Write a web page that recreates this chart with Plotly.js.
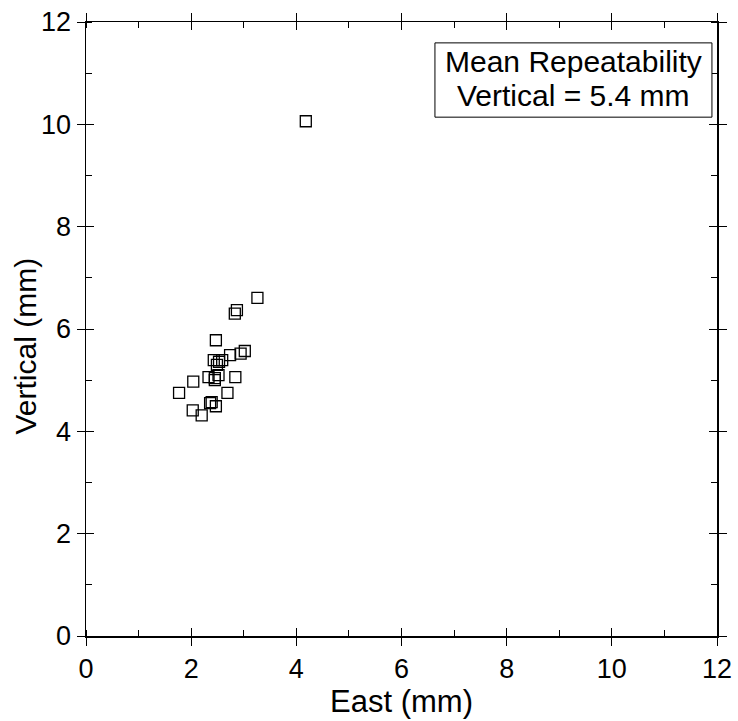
<!DOCTYPE html>
<html>
<head>
<meta charset="utf-8">
<script src="https://cdn.plot.ly/plotly-3.0.1.min.js"></script>
<style>html,body{margin:0;padding:0;background:#fff}#chart{width:738px;height:721px}</style>
</head>
<body>
<div id="chart"></div>
<script>
const eastMM = [4.18, 3.26, 2.87, 2.83, 2.47, 3.02, 2.94, 2.74, 2.43, 2.59, 2.53, 2.49, 2.52, 2.33, 2.45, 2.45, 2.84, 2.04, 1.77, 2.69, 2.39, 2.36, 2.47, 2.03, 2.20];
const verticalMM = [10.06, 6.61, 6.37, 6.30, 5.78, 5.57, 5.52, 5.49, 5.39, 5.39, 5.36, 5.30, 5.10, 5.06, 5.04, 5.00, 5.06, 4.97, 4.75, 4.75, 4.57, 4.55, 4.49, 4.41, 4.31];
const tickVals = [0, 2, 4, 6, 8, 10, 12];
const tickText = ['0', '2', '4', '6', '8', '10', '12'];
const noteLines = ['Mean Repeatability', 'Vertical = 5.4 mm'];
const xTitle = 'East (mm)';
const yTitle = 'Vertical (mm)';

const font = 'Liberation Sans, Arial, sans-serif';
const baseAxis = {
  range: [0, 12], tickvals: tickVals, ticktext: tickText,
  ticks: 'outside', ticklen: 8, tickwidth: 1, tickcolor: '#000',
  showline: true, linecolor: '#000', linewidth: 1.5, mirror: 'allticks',
  showgrid: false, zeroline: false,
  tickfont: {family: font, size: 27, color: '#000'},
  minor: {dtick: 1, ticks: 'inside', ticklen: 6, tickcolor: '#000', tickwidth: 1, showgrid: false}
};
const innerAxis = {
  range: [0, 12], tickvals: tickVals, ticks: 'inside', ticklen: 8, tickwidth: 1, tickcolor: '#000',
  showticklabels: false, showline: false, showgrid: false, zeroline: false, mirror: 'allticks'
};

const data = [{
  x: eastMM, y: verticalMM, type: 'scatter', mode: 'markers',
  marker: {symbol: 'square-open', size: 11, color: '#000', line: {width: 1.3, color: '#000'}},
  hoverinfo: 'x+y'
}, {x: [null], y: [null], xaxis: 'x2', yaxis: 'y2', type: 'scatter', mode: 'markers', showlegend: false, hoverinfo: 'skip'}];

const annotations = noteLines.map((t, i) => ({
  xref: 'paper', yref: 'paper', x: 0.7725, y: [0.9357, 0.8803][i], xanchor: 'center', yanchor: 'middle',
  text: t, showarrow: false, align: 'center',
  font: {family: font, size: 30, color: '#000'}
}));
annotations.push({
  xref: 'paper', yref: 'paper', x: -0.0951, y: 0.4731, xanchor: 'center', yanchor: 'middle',
  text: yTitle, textangle: -90, showarrow: false,
  font: {family: font, size: 30, color: '#000'}
});

const layout = {
  width: 738, height: 721,
  margin: {l: 86, r: 21, t: 22, b: 85},
  paper_bgcolor: '#fff', plot_bgcolor: '#fff',
  showlegend: false,
  xaxis: Object.assign({}, baseAxis, {title: {text: xTitle, font: {family: font, size: 31, color: '#000'}, standoff: 6}}),
  yaxis: Object.assign({}, baseAxis),
  xaxis2: Object.assign({}, innerAxis, {overlaying: 'x', anchor: 'y'}),
  yaxis2: Object.assign({}, innerAxis, {overlaying: 'y', anchor: 'x'}),
  shapes: [{
    type: 'rect', xref: 'paper', yref: 'paper',
    x0: 0.553, x1: 0.992, y0: 0.845, y1: 0.966,
    line: {color: '#000', width: 1}, fillcolor: '#fff', layer: 'above'
  }],
  annotations: annotations
};

Plotly.newPlot('chart', data, layout, {staticPlot: true});
</script>
</body>
</html>
